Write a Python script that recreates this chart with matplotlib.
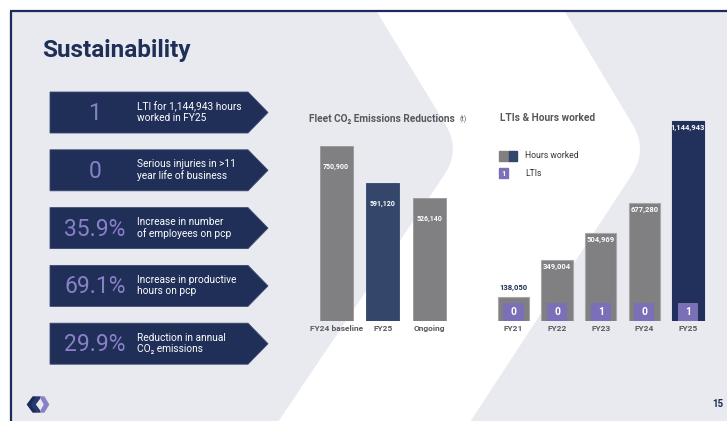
import numpy as np
import matplotlib.pyplot as plt
from matplotlib.patches import Polygon, PathPatch, Rectangle
from matplotlib.path import Path

plt.rcParams['font.family'] = ['Roboto', 'DejaVu Sans']

# data
stat_values = ["1", "0", "35.9%", "69.1%", "29.9%"]
stat_texts = ["LTI for 1,144,943 hours\nworked in FY25",
              "Serious injuries in >11\nyear life of business",
              "Increase in number\nof employees on pcp",
              "Increase in productive\nhours on pcp",
              "Reduction in annual\nCO\u2082 emissions"]

co2_labels = ["FY24 baseline", "FY25", "Ongoing"]
co2_values = [750900, 591120, 526140]

years = ["FY21", "FY22", "FY23", "FY24", "FY25"]
hours = [138050, 349004, 504969, 677280, 1144943]
ltis = [0, 0, 1, 0, 1]

W, H = 727, 421
NAVY = "#1f2f58"
BG = "#e8eaf0"
LAV = "#8a80c8"
GREY = "#808083"
PURPLE = "#7b70b8"

fig = plt.figure(figsize=(W / 100, H / 100), dpi=100)
bg = fig.add_axes([0, 0, 1, 1])
bg.set_xlim(0, W)
bg.set_ylim(H, 0)
bg.axis('off')

# slide background
bg.add_patch(Rectangle((10, 11), W, H, color=BG, zorder=0))


def chevron_band(top_x, tip, bot_x, r=30):
    # edge going from top down to a rounded tip and back to the bottom
    t = np.array(tip, float)
    p0 = np.array([top_x, 12.0])
    p1 = np.array([bot_x, H + 1.0])
    u1 = (t - p0) / np.linalg.norm(t - p0)
    u2 = (p1 - t) / np.linalg.norm(p1 - t)
    return [p0, t - r * u1, t, t + r * u2, p1]


left = chevron_band(377, (461, 150), 278)
right = chevron_band(565, (648, 150), 470)
verts = left + right[::-1] + [left[0]]
codes = [Path.MOVETO, Path.LINETO, Path.CURVE3, Path.CURVE3, Path.LINETO,
         Path.LINETO, Path.LINETO, Path.CURVE3, Path.CURVE3, Path.LINETO,
         Path.CLOSEPOLY]
bg.add_patch(PathPatch(Path(verts, codes), facecolor='white', edgecolor='none', zorder=1))

# slide border
bg.plot([10, W], [11, 11], color="#1c2a5c", lw=1.6, zorder=3, solid_capstyle='butt')
bg.plot([10.5, 10.5], [11, H], color="#1c2a5c", lw=1.6, zorder=3, solid_capstyle='butt')

bg.text(42, 50, "Sustainability", fontsize=17.5, fontweight='bold', color=NAVY,
        va='center', ha='left', zorder=4)

# stat chevrons on the left
for i, (val, txt) in enumerate(zip(stat_values, stat_texts)):
    top = 92 + i * 57.8
    bot = top + 41
    bg.add_patch(Polygon([(50, top), (248, top), (268, (top + bot) / 2), (248, bot), (50, bot)],
                         closed=True, facecolor=NAVY, edgecolor="#3d4a72", lw=0.6, zorder=4))
    bg.text(95, (top + bot) / 2 + 1, val, fontsize=16.5, fontweight='normal', color=LAV,
            ha='center', va='center', zorder=5)
    bg.text(137, (top + bot) / 2, txt, fontsize=7.3, color='white', ha='left', va='center',
            linespacing=1.15, zorder=5)

# chart titles and legend
t1 = bg.text(309, 119, "Fleet CO\u2082 Emissions Reductions", fontsize=7.3, fontweight='bold',
             color="#58585b", va='center', zorder=4)
bg.annotate("(t)", xy=(1, 0.45), xycoords=t1, xytext=(3, 0), textcoords='offset points',
            fontsize=5, color="#58585b", ha='left', va='center', zorder=4)
bg.text(500, 118, "LTIs & Hours worked", fontsize=7.3, fontweight='bold',
        color="#58585b", va='center', zorder=4)
bg.add_patch(Rectangle((499, 151), 10, 10, color=GREY, zorder=4))
bg.add_patch(Rectangle((509, 151), 8, 10, color="#34476b", zorder=4))
bg.text(525, 156, "Hours worked", fontsize=6.2, color="#333333", va='center', zorder=4)
bg.add_patch(Rectangle((499, 168), 9, 9.5, color=PURPLE, zorder=4))
bg.text(503.5, 173, "1", fontsize=5.5, color='white', fontweight='bold',
        ha='center', va='center', zorder=5)
bg.text(525, 173, "LTIs", fontsize=6.2, color="#333333", va='center', zorder=4)

# logo and page number
bg.add_patch(Polygon([(33, 397), (27.5, 404.5), (33, 412), (36.5, 412), (31, 404.5), (36.5, 397)],
                     color="#1c2a5c", zorder=4))
bg.add_patch(Polygon([(37, 397), (31.5, 404.5), (37, 412), (40.5, 412), (35, 404.5), (40.5, 397)],
                     color="#2b3a6a", zorder=4))
bg.add_patch(Polygon([(40.5, 397), (44, 397), (48.5, 404.5), (44, 412), (40.5, 412), (44.5, 404.5)],
                     color="#8a80c8", zorder=4))
bg.text(712, 404, "15", fontsize=7, fontweight='bold', color=NAVY, ha='left', va='center', zorder=4)


def px_axes(l, t, r, b):
    ax = fig.add_axes([l / W, 1 - b / H, (r - l) / W, (b - t) / H])
    ax.patch.set_alpha(0)
    for s in ax.spines.values():
        s.set_visible(False)
    ax.tick_params(length=0, pad=3.2, labelsize=6, labelcolor="#5a5a5d")
    ax.set_yticks([])
    return ax


# fleet CO2 chart
ax1 = px_axes(313, 141, 452.5, 321)
x1 = np.arange(len(co2_values))
ax1.bar(x1, co2_values, width=0.72, color=[GREY, "#34476b", GREY],
        edgecolor=["#98989b", "#34476b", "#98989b"], lw=0.6)
ax1.set_xlim(-0.5, 2.5)
ax1.set_ylim(0, 772000)
ax1.set_xticks(x1)
ax1.set_xticklabels(co2_labels, fontweight='bold')
for xi, v in zip(x1, co2_values):
    ax1.annotate(f"{v:,}", (xi, v), xytext=(0, -15), textcoords='offset points',
                 ha='center', va='center', fontsize=5, fontweight='bold', color='white')

# LTIs and hours chart
ax2 = px_axes(491.7, 116, 709.7, 321)
x2 = np.arange(len(hours))
ax2.bar(x2, hours, width=0.72, color=[GREY] * 4 + ["#22315b"],
        edgecolor=["#a8a8ab"] * 4 + ["#22315b"], lw=0.8)
ax2.set_xlim(-0.5, 4.5)
ax2.set_ylim(0, 1173000)
ax2.set_xticks(x2)
ax2.set_xticklabels(years, fontweight='bold')
box_h = 103000
ax2.bar(x2, [box_h] * len(x2), width=0.46, color=PURPLE)
for xi, v, n in zip(x2, hours, ltis):
    if v < 200000:
        ax2.annotate(f"{v:,}", (xi, v), xytext=(0, 6.5), textcoords='offset points',
                     ha='center', va='center', fontsize=5.5, fontweight='bold', color=NAVY)
    else:
        ax2.annotate(f"{v:,}", (xi, v), xytext=(0, -5), textcoords='offset points',
                     ha='center', va='center', fontsize=5.5, fontweight='bold', color='white')
    ax2.text(xi, box_h / 2, str(n), ha='center', va='center', fontsize=7.5,
             fontweight='bold', color='white')

fig.savefig("out.png", dpi=100)
